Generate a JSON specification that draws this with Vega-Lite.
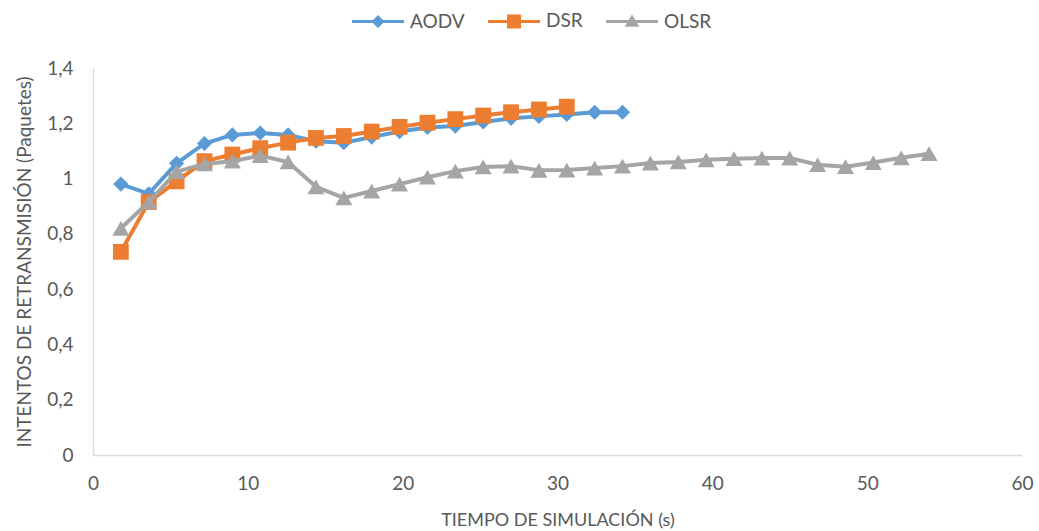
{
  "$schema": "https://vega.github.io/schema/vega-lite/v6.json",
  "width": 929,
  "height": 387,
  "autosize": "none",
  "padding": {"left": 93, "top": 68, "right": 17, "bottom": 76},
  "background": "white",
  "config": {
    "font": "Lato",
    "view": {"stroke": null},
    "axis": {
      "grid": false,
      "ticks": false,
      "tickSize": 0,
      "domainColor": "#d9d9d9",
      "domainWidth": 1.5,
      "labelColor": "#595959",
      "labelFontSize": 19,
      "titleColor": "#595959",
      "titleFontWeight": "normal",
      "labelFont": "Lato",
      "titleFont": "Lato",
      "labelFlush": false
    },
    "legend": {
      "labelFont": "Lato",
      "labelFontSize": 19,
      "labelColor": "#595959"
    }
  },
  "datasets": {
    "all": [
      {"protocol": "AODV", "t": 1.8, "v": 0.98},
      {"protocol": "AODV", "t": 3.6, "v": 0.945},
      {"protocol": "AODV", "t": 5.4, "v": 1.055},
      {"protocol": "AODV", "t": 7.2, "v": 1.127},
      {"protocol": "AODV", "t": 9.0, "v": 1.158},
      {"protocol": "AODV", "t": 10.8, "v": 1.165},
      {"protocol": "AODV", "t": 12.6, "v": 1.158},
      {"protocol": "AODV", "t": 14.4, "v": 1.135},
      {"protocol": "AODV", "t": 16.2, "v": 1.13},
      {"protocol": "AODV", "t": 18.0, "v": 1.15},
      {"protocol": "AODV", "t": 19.8, "v": 1.17},
      {"protocol": "AODV", "t": 21.6, "v": 1.185},
      {"protocol": "AODV", "t": 23.4, "v": 1.19},
      {"protocol": "AODV", "t": 25.2, "v": 1.205},
      {"protocol": "AODV", "t": 27.0, "v": 1.218},
      {"protocol": "AODV", "t": 28.8, "v": 1.225},
      {"protocol": "AODV", "t": 30.6, "v": 1.232},
      {"protocol": "AODV", "t": 32.4, "v": 1.24},
      {"protocol": "AODV", "t": 34.2, "v": 1.24},
      {"protocol": "DSR", "t": 1.8, "v": 0.735},
      {"protocol": "DSR", "t": 3.6, "v": 0.915},
      {"protocol": "DSR", "t": 5.4, "v": 0.99},
      {"protocol": "DSR", "t": 7.2, "v": 1.063},
      {"protocol": "DSR", "t": 9.0, "v": 1.087},
      {"protocol": "DSR", "t": 10.8, "v": 1.11},
      {"protocol": "DSR", "t": 12.6, "v": 1.13},
      {"protocol": "DSR", "t": 14.4, "v": 1.147},
      {"protocol": "DSR", "t": 16.2, "v": 1.154},
      {"protocol": "DSR", "t": 18.0, "v": 1.17},
      {"protocol": "DSR", "t": 19.8, "v": 1.187},
      {"protocol": "DSR", "t": 21.6, "v": 1.202},
      {"protocol": "DSR", "t": 23.4, "v": 1.215},
      {"protocol": "DSR", "t": 25.2, "v": 1.228},
      {"protocol": "DSR", "t": 27.0, "v": 1.24},
      {"protocol": "DSR", "t": 28.8, "v": 1.25},
      {"protocol": "DSR", "t": 30.6, "v": 1.26},
      {"protocol": "OLSR", "t": 1.8, "v": 0.82},
      {"protocol": "OLSR", "t": 3.6, "v": 0.915},
      {"protocol": "OLSR", "t": 5.4, "v": 1.025},
      {"protocol": "OLSR", "t": 7.2, "v": 1.053},
      {"protocol": "OLSR", "t": 9.0, "v": 1.063},
      {"protocol": "OLSR", "t": 10.8, "v": 1.083},
      {"protocol": "OLSR", "t": 12.6, "v": 1.06},
      {"protocol": "OLSR", "t": 14.4, "v": 0.97},
      {"protocol": "OLSR", "t": 16.2, "v": 0.93},
      {"protocol": "OLSR", "t": 18.0, "v": 0.955},
      {"protocol": "OLSR", "t": 19.8, "v": 0.98},
      {"protocol": "OLSR", "t": 21.6, "v": 1.005},
      {"protocol": "OLSR", "t": 23.4, "v": 1.027},
      {"protocol": "OLSR", "t": 25.2, "v": 1.042},
      {"protocol": "OLSR", "t": 27.0, "v": 1.045},
      {"protocol": "OLSR", "t": 28.8, "v": 1.03},
      {"protocol": "OLSR", "t": 30.6, "v": 1.031},
      {"protocol": "OLSR", "t": 32.4, "v": 1.038},
      {"protocol": "OLSR", "t": 34.2, "v": 1.045},
      {"protocol": "OLSR", "t": 36.0, "v": 1.056},
      {"protocol": "OLSR", "t": 37.8, "v": 1.06},
      {"protocol": "OLSR", "t": 39.6, "v": 1.068},
      {"protocol": "OLSR", "t": 41.4, "v": 1.072},
      {"protocol": "OLSR", "t": 43.2, "v": 1.074},
      {"protocol": "OLSR", "t": 45.0, "v": 1.074},
      {"protocol": "OLSR", "t": 46.8, "v": 1.05},
      {"protocol": "OLSR", "t": 48.6, "v": 1.043},
      {"protocol": "OLSR", "t": 50.4, "v": 1.058},
      {"protocol": "OLSR", "t": 52.2, "v": 1.075},
      {"protocol": "OLSR", "t": 54.0, "v": 1.09}
    ]
  },
  "data": {"name": "all"},
  "encoding": {
    "x": {
      "field": "t", "type": "quantitative",
      "scale": {"domain": [0, 60], "nice": false},
      "axis": {"values": [0, 10, 20, 30, 40, 50, 60], "labelPadding": 19, "title": "TIEMPO DE SIMULACIÓN (s)", "titleFontSize": 18, "titlePadding": 18}
    },
    "y": {
      "field": "v", "type": "quantitative",
      "scale": {"domain": [0, 1.4], "nice": false},
      "axis": {
        "values": [0, 0.2, 0.4, 0.6, 0.8, 1, 1.2, 1.4],
        "labelExpr": "replace(format(datum.value, '.1~f'), '.', ',')",
        "labelPadding": 20,
        "title": "INTENTOS DE RETRANSMISIÓN (Paquetes)",
        "titleFontSize": 19,
        "titlePadding": 12
      }
    }
  },
  "layer": [
    {"transform": [{"filter": "datum.protocol === 'AODV'"}], "mark": {"type": "line", "strokeWidth": 4, "color": "#5b9bd5"}},
    {"transform": [{"filter": "datum.protocol === 'AODV'"}], "mark": {"type": "point", "filled": true, "opacity": 1, "shape": "diamond", "size": 230, "color": "#5b9bd5"}},
    {"transform": [{"filter": "datum.protocol === 'DSR'"}], "mark": {"type": "line", "strokeWidth": 4, "color": "#ed7d31"}},
    {"transform": [{"filter": "datum.protocol === 'DSR'"}], "mark": {"type": "point", "filled": true, "opacity": 1, "shape": "square", "size": 250, "color": "#ed7d31"}},
    {"transform": [{"filter": "datum.protocol === 'OLSR'"}], "mark": {"type": "line", "strokeWidth": 4, "color": "#a5a5a5"}},
    {"transform": [{"filter": "datum.protocol === 'OLSR'"}], "mark": {"type": "point", "filled": true, "opacity": 1, "shape": "triangle-up", "size": 290, "color": "#a5a5a5"}},
    {
      "mark": {"type": "point", "filled": true, "opacity": 0},
      "encoding": {
        "color": {
          "field": "protocol", "type": "nominal",
          "scale": {"domain": ["AODV", "DSR", "OLSR"], "range": ["#5b9bd5", "#ed7d31", "#a5a5a5"]},
          "legend": {
            "title": null, "orient": "none", "direction": "horizontal",
            "legendX": 258, "legendY": -74,
            "symbolSize": 2704, "labelOffset": 5, "columnPadding": 20, "symbolOpacity": 1
          }
        },
        "shape": {
          "field": "protocol", "type": "nominal",
          "scale": {
            "domain": ["AODV", "DSR", "OLSR"],
            "range": [
              "M-1,-0.06H1V0.06H-1ZM-0.25,0L0,-0.25L0.25,0L0,0.25Z",
              "M-1,-0.06H1V0.06H-1ZM-0.27,-0.27H0.27V0.27H-0.27Z",
              "M-1,-0.06H1V0.06H-1ZM0,-0.27L0.28,0.2H-0.28Z"
            ]
          },
          "legend": {
            "title": null, "orient": "none", "direction": "horizontal",
            "legendX": 258, "legendY": -74,
            "symbolSize": 2704, "labelOffset": 5, "columnPadding": 20, "symbolOpacity": 1
          }
        }
      }
    }
  ]
}
